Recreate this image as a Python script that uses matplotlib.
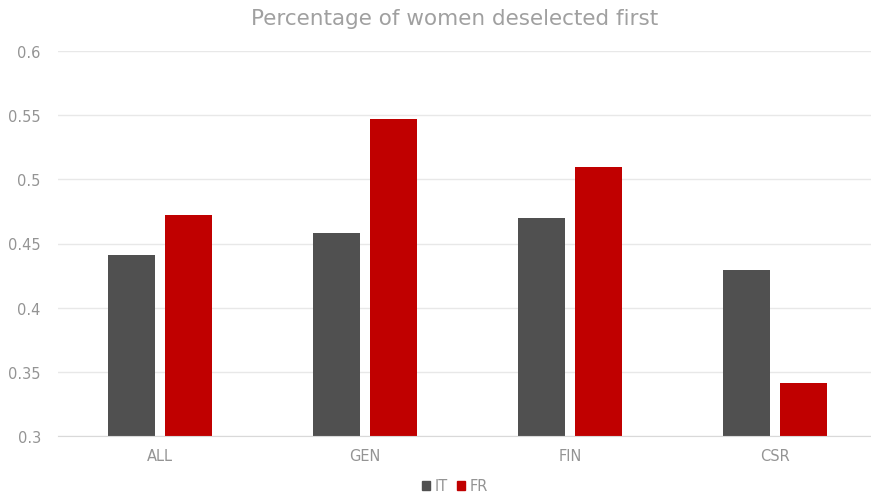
import matplotlib
matplotlib.use("Agg")
import matplotlib.pyplot as plt
import numpy as np
from matplotlib.patches import Patch

categories = ["ALL", "GEN", "FIN", "CSR"]
it_values = [0.441, 0.458, 0.470, 0.429]
fr_values = [0.472, 0.547, 0.510, 0.341]
y_ticks = [0.3, 0.35, 0.4, 0.45, 0.5, 0.55, 0.6]
y_tick_labels = ["0.3", "0.35", "0.4", "0.45", "0.5", "0.55", "0.6"]

IT_COLOR = "#505050"
FR_COLOR = "#C00000"
TEXT_COLOR = "#949494"

plt.rcParams["font.family"] = ["DejaVu Sans"]

fig = plt.figure(figsize=(8.71, 5.02), dpi=100)
ax = fig.add_axes([57.5 / 871, 65 / 502, 820 / 871, 385 / 502])

x = np.arange(len(categories))
bar_w = 0.229
offset = 0.139
base = 0.3
ax.bar(x - offset, np.array(it_values) - base, bar_w, bottom=base,
       color=IT_COLOR, label="IT", zorder=3)
ax.bar(x + offset, np.array(fr_values) - base, bar_w, bottom=base,
       color=FR_COLOR, label="FR", zorder=3)

ax.set_xlim(-0.5, len(categories) - 0.5)
ax.set_ylim(0.3, 0.6)
ax.set_yticks(y_ticks)
ax.set_yticklabels(y_tick_labels)
ax.set_xticks(x)
ax.set_xticklabels(categories)

ax.grid(axis="y", color="#e8e8e8", linewidth=1, zorder=0)
for s in ["top", "right", "left"]:
    ax.spines[s].set_visible(False)
ax.spines["bottom"].set_color("#d9d9d9")
ax.spines["bottom"].set_zorder(4)
ax.tick_params(axis="both", length=0, labelsize=10.5, colors=TEXT_COLOR)
ax.tick_params(axis="y", pad=12)
ax.tick_params(axis="x", pad=9)

fig.text(455 / 871, 1 - 19 / 502, "Percentage of women deselected first",
         ha="center", va="center", fontsize=15.5, color="#a0a0a0")

handles = [Patch(color=IT_COLOR, label="IT"), Patch(color=FR_COLOR, label="FR")]
fig.legend(handles=handles, loc="center", bbox_to_anchor=(455 / 871, 1 - 487 / 502),
           ncol=2, frameon=False, fontsize=10.5, labelcolor=TEXT_COLOR,
           handlelength=0.55, handleheight=0.55, handletextpad=0.3, columnspacing=0.6)

fig.savefig("out.png", dpi=100)
